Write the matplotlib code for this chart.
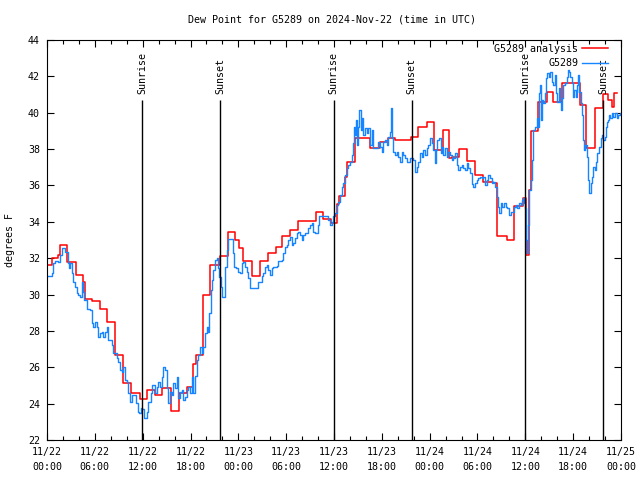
import matplotlib
matplotlib.use('Agg')
import matplotlib.pyplot as plt
from matplotlib.ticker import MultipleLocator, FixedLocator
from datetime import datetime, timedelta

# hours since 2024-11-22 00:00 UTC
analysis_hours = [0.0, 0.63, 1.38, 1.63, 2.51, 3.64, 4.52, 4.77, 5.64, 6.65, 7.53, 8.53,
                  9.53, 10.54, 11.67, 12.54, 13.55, 14.43, 15.55, 16.56, 17.56, 18.31, 18.69,
                  19.57, 20.45, 21.7, 22.7, 23.58, 24.08, 24.59, 25.71, 26.72, 27.72, 28.73,
                  29.48, 30.48, 31.49, 33.74, 34.62, 35.62, 36.38, 36.63, 37.38, 37.63, 38.63,
                  40.52, 41.77, 42.77, 43.65, 45.66, 46.54, 47.67, 48.54, 49.67, 50.43, 50.8,
                  51.68, 52.68, 53.69, 54.69, 55.95, 56.45, 57.7, 58.58, 59.71, 60.09, 60.46,
                  60.71, 61.59, 62.72, 63.47, 64.6, 66.86, 67.61, 68.74, 69.74, 70.37, 70.87,
                  71.12, 71.5]
analysis_dewpt = [31.6, 32.0, 32.2, 32.7, 31.8, 31.1, 30.7, 29.75, 29.65, 29.2, 28.5, 26.67,
                  25.15, 24.57, 24.24, 24.75, 24.47, 24.84, 23.6, 24.57, 24.93, 26.2, 26.67,
                  30.0, 31.6, 32.1, 33.46, 33.0, 32.54, 31.84, 31.02, 31.86, 32.26, 32.6,
                  33.22, 33.55, 34.06, 34.56, 34.15, 33.92, 35.0, 35.42, 36.48, 37.27, 38.59,
                  38.08, 38.37, 38.59, 38.5, 38.68, 39.23, 39.47, 37.95, 39.05, 37.5, 37.55,
                  38.0, 37.36, 36.57, 36.2, 36.12, 33.22, 33.0, 34.89, 35.29, 32.2, 35.75,
                  39.0, 40.6, 41.16, 40.6, 41.62, 40.42, 38.04, 40.24, 41.03, 40.7, 40.33,
                  41.07, 41.07]

obs_hours = [0.0, 0.59, 0.79, 1.0, 1.42, 1.63, 1.92, 2.26, 2.6, 2.76, 2.89, 3.1, 3.3, 3.51,
             3.73, 3.93, 4.14, 4.35, 4.55, 4.68, 4.98, 5.39, 5.61, 5.81, 6.02, 6.23, 6.44,
             6.65, 6.86, 7.06, 7.28, 7.49, 7.69, 8.12, 8.32, 8.74, 8.94, 9.16, 9.37, 9.57,
             9.78, 10.0, 10.2, 10.41, 10.7, 10.95, 11.13, 11.38, 11.54, 11.79, 11.95, 12.2,
             12.51, 12.71, 13.05, 13.21, 13.55, 13.76, 13.96, 14.17, 14.39, 14.59, 14.8,
             15.01, 15.22, 15.43, 15.64, 15.84, 16.06, 16.27, 16.47, 16.68, 16.9, 17.1,
             17.31, 17.52, 17.72, 17.94, 18.15, 18.35, 18.57, 18.78, 18.98, 19.19, 19.4,
             19.61, 19.82, 20.03, 20.23, 20.36, 20.53, 20.7, 20.86, 21.07, 21.29, 21.49,
             21.61, 21.79, 21.91, 22.12, 22.33, 22.54, 22.74, 23.17, 23.37, 23.5, 23.71,
             24.0, 24.21, 24.42, 24.62, 24.84, 25.05, 25.25, 25.46, 25.88, 26.3, 26.51,
             26.72, 26.93, 27.13, 27.35, 27.56, 27.76, 27.97, 28.19, 28.39, 28.81, 29.01,
             29.44, 29.64, 29.86, 30.07, 30.27, 30.48, 30.69, 30.9, 31.11, 31.32, 31.52,
             31.74, 31.95, 32.15, 32.36, 32.58, 32.78, 32.99, 33.2, 33.4, 33.62, 33.83,
             34.03, 34.16, 35.09, 35.29, 35.5, 35.71, 35.91, 36.13, 36.34, 36.54, 36.75,
             36.96, 37.17, 37.38, 37.59, 37.8, 38.01, 38.22, 38.35, 38.51, 38.64, 38.76,
             38.92, 39.05, 39.18, 39.35, 39.48, 39.68, 39.89, 40.1, 40.3, 40.52, 40.73,
             40.93, 41.36, 41.56, 41.77, 41.98, 42.19, 42.4, 42.61, 42.81, 43.03, 43.15,
             43.28, 43.44, 43.65, 43.87, 44.07, 44.28, 44.49, 44.69, 44.91, 45.12, 45.32,
             45.53, 45.75, 45.95, 46.16, 46.37, 46.58, 46.79, 47.0, 47.2, 47.42, 47.63,
             47.83, 48.04, 48.25, 48.46, 48.67, 48.8, 48.96, 49.21, 49.39, 49.55, 49.71,
             49.93, 50.14, 50.34, 50.55, 50.77, 50.97, 51.18, 51.4, 51.6, 51.81, 52.02,
             52.22, 52.43, 52.65, 52.85, 53.06, 53.27, 53.48, 53.69, 53.9, 54.1, 54.32,
             54.53, 54.73, 54.94, 55.15, 55.36, 55.57, 55.78, 55.98, 56.2, 56.41, 56.61,
             56.74, 56.91, 57.12, 57.33, 57.54, 57.74, 57.95, 58.17, 58.37, 58.58, 58.79,
             58.99, 59.21, 59.42, 59.62, 59.75, 59.87, 59.96, 60.09, 60.17, 60.3, 60.5,
             60.68, 60.8, 61.0, 61.22, 61.43, 61.55, 61.68, 61.84, 61.97, 62.1, 62.26,
             62.47, 62.6, 62.76, 62.93, 63.1, 63.31, 63.51, 63.72, 63.85, 64.01, 64.19,
             64.35, 64.48, 64.64, 64.77, 64.98, 65.19, 65.32, 65.48, 65.61, 65.82, 66.02,
             66.15, 66.32, 66.52, 66.65, 66.77, 66.95, 67.11, 67.27, 67.4, 67.52, 67.7,
             67.9, 68.03, 68.2, 68.36, 68.53, 68.74, 68.87, 69.03, 69.24, 69.46, 69.66,
             69.79, 69.96, 70.08, 70.21, 70.34, 70.5, 70.63, 70.84, 71.04, 71.25, 71.46,
             71.67, 71.88, 72.0]
obs_dewpt = [31.0, 31.17, 31.72, 31.86, 31.81, 32.17, 32.54, 32.36, 31.72, 31.44, 31.72, 31.2,
             30.71, 30.43, 30.07, 29.97, 29.88, 30.71, 30.16, 29.7, 29.19, 29.15, 28.42,
             28.23, 28.5, 28.23, 27.68, 27.87, 27.96, 27.68, 27.96, 28.23, 27.5, 27.22,
             26.77, 26.49, 26.31, 25.85, 25.76, 26.03, 25.3, 25.21, 24.57, 24.1, 24.47,
             24.47, 24.02, 23.56, 23.47, 23.74, 23.7, 23.19, 23.56, 24.1, 24.57, 25.02,
             24.57, 24.93, 25.21, 24.93, 25.48, 26.03, 25.85, 24.84, 24.02, 24.66, 24.47,
             25.11, 24.84, 25.48, 24.29, 24.66, 24.75, 24.2, 24.38, 24.75, 24.93, 24.57,
             25.48, 24.57, 25.5, 26.4, 26.67, 27.13, 26.77, 27.13, 27.87, 28.23, 27.96,
             28.97, 30.25, 30.8, 31.35, 31.9, 31.99, 31.44, 30.98, 30.43, 29.88, 29.88,
             31.53, 32.45, 33.04, 33.04, 32.27, 31.53, 31.44, 31.26, 31.17, 31.72, 31.81,
             31.53, 31.26, 30.89, 30.34, 30.34, 30.34, 30.71, 30.71, 31.02, 31.17, 31.53,
             31.62, 31.35, 31.07, 31.44, 31.53, 31.57, 31.84, 31.9, 32.27, 32.63, 32.72,
             33.0, 33.18, 32.72, 32.85, 33.09, 33.37, 33.46, 33.28, 33.0, 33.28, 33.37,
             33.37, 33.64, 33.82, 33.92, 33.46, 33.37, 33.37, 33.82, 34.34, 34.34, 34.1,
             33.82, 34.01, 34.3, 34.47, 34.93, 35.11, 35.48, 35.93, 36.12, 36.57, 36.94,
             37.12, 37.31, 37.67, 38.32, 39.23, 38.77, 39.6, 38.23, 39.23, 40.15, 39.05,
             39.69, 38.77, 39.14, 38.87, 39.14, 38.23, 39.05, 38.04, 38.04, 38.41, 38.13,
             37.86, 38.41, 38.5, 38.23, 38.68, 38.96, 40.24, 38.59, 37.86, 37.67, 37.86,
             37.58, 37.31, 37.86, 37.67, 37.49, 37.31, 37.31, 37.49, 37.49, 37.4, 36.76,
             37.03, 37.31, 37.77, 37.58, 37.95, 37.67, 38.04, 38.23, 38.59, 38.32, 37.95,
             37.22, 37.95, 38.5, 38.59, 37.77, 38.13, 37.67, 38.04, 37.58, 37.86, 37.67,
             37.4, 37.49, 37.77, 37.12, 36.85, 37.03, 37.12, 36.94, 36.85, 37.22, 36.94,
             36.67, 36.1, 35.93, 36.15, 36.3, 36.39, 36.48, 36.39, 36.48, 36.02, 36.3,
             36.57, 36.39, 36.12, 36.2, 35.93, 35.38, 34.83, 34.47, 35.02, 34.83, 35.02,
             34.83, 34.74, 34.37, 34.56, 34.56, 34.83, 34.93, 34.74, 35.02, 34.93, 35.2,
             35.29, 35.02, 34.74, 33.0, 32.3, 33.8, 35.75, 36.3, 37.4, 39.05, 39.23,
             39.69, 39.23, 41.07, 41.52, 39.6, 40.7, 40.52, 41.07, 41.89, 42.17, 41.98,
             42.26, 41.71, 41.52, 42.07, 41.07, 40.61, 41.34, 40.61, 40.15, 40.79, 41.52,
             41.62, 41.98, 42.35, 42.26, 41.98, 41.62, 40.88, 41.25, 40.88, 41.52, 42.07,
             41.16, 40.52, 39.87, 38.5, 37.95, 38.23, 37.58, 36.3, 35.57, 36.12, 36.48,
             37.03, 36.85, 37.31, 37.77, 38.13, 38.59, 38.77, 38.5, 38.68, 39.23, 39.5,
             39.6, 39.87, 39.69, 39.96, 39.78, 39.96, 39.69, 39.87, 39.96, 40.0]

sunrise_hours = [11.93, 35.97, 59.96]
sunset_hours = [21.72, 45.75, 69.76]

start = datetime(2024, 11, 22)
tick_hours = list(range(0, 73, 6))
tick_labels = [(start + timedelta(hours=h)).strftime('%m/%d\n%H:%M') for h in tick_hours]

fs = 7.2
plt.rcParams['font.family'] = ['DejaVu Sans Mono']
plt.rcParams['font.size'] = fs

fig = plt.figure(figsize=(6.4, 4.8), dpi=100)
ax = fig.add_axes([47/640, 40/480, 574/640, 400/480])

ax.plot(analysis_hours, analysis_dewpt, color='#ff0000', lw=1.1,
        drawstyle='steps-post', label='G5289 analysis')
ax.plot(obs_hours, obs_dewpt, color='#1785ff', lw=1.0,
        drawstyle='steps-post', label='G5289')

for h in sunrise_hours:
    ax.vlines(h, 22, 40.7, color='black', lw=1.0, zorder=4)
    ax.text(h, 41.05, 'Sunrise', rotation=90, ha='center', va='bottom', fontsize=fs)
for h in sunset_hours:
    ax.vlines(h, 22, 40.7, color='black', lw=1.0, zorder=4)
    ax.text(h, 41.05, 'Sunset', rotation=90, ha='center', va='bottom', fontsize=fs)

ax.set_xlim(0, 72)
ax.set_ylim(22, 44)
ax.xaxis.set_major_locator(FixedLocator(tick_hours))
ax.set_xticklabels(tick_labels, linespacing=1.6)
ax.xaxis.set_minor_locator(MultipleLocator(2))
ax.yaxis.set_major_locator(MultipleLocator(2))
ax.tick_params(which='both', direction='in', top=True, right=True, width=0.8)
ax.tick_params(which='major', length=5, pad=5)
ax.tick_params(which='minor', length=3)
for s in ax.spines.values():
    s.set_linewidth(0.8)

ax.legend(loc='upper right', bbox_to_anchor=(0.985, 1.0), frameon=False,
          markerfirst=False, handlelength=2.6, handletextpad=0.4,
          labelspacing=0.45, borderaxespad=0.0, fontsize=fs)

fig.text(332/640, 1 - 19/480, 'Dew Point for G5289 on 2024-Nov-22 (time in UTC)',
         ha='center', va='center', fontsize=fs)
fig.text(10/640, 0.5, 'degrees F', rotation=90, ha='center', va='center', fontsize=fs)

fig.savefig('out.png', dpi=100)
